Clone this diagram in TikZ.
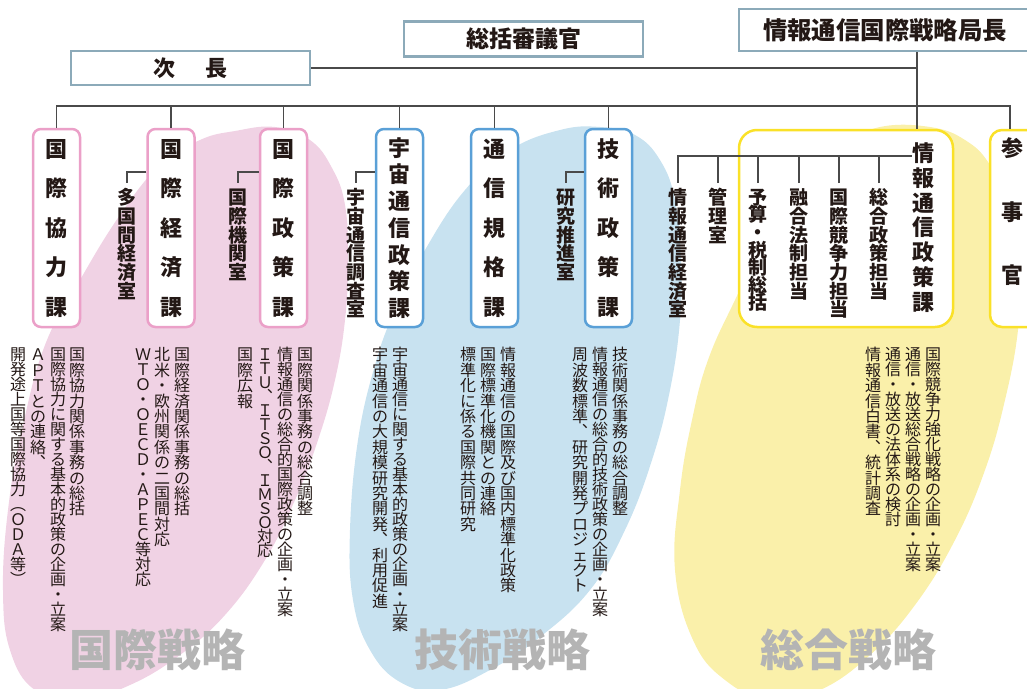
\documentclass[tikz,border=0pt]{standalone}
\usepackage{fontspec}
\setmainfont{Noto Sans CJK JP}
\makeatletter
\newcommand\vtext[2]{%
  \vbox{\offinterlineskip
  \@tfor\vt@c:=#2\do{%
    \dimen@=\dimexpr#1\relax
    \hbox to 1em{\hss\vbox to\dimen@{\vss\hbox{\vrule height .88em depth .12em width 0pt\vt@c}\vss}\hss}}}}
\makeatother
\definecolor{pinkf}{HTML}{F0D2E4}
\definecolor{bluef}{HTML}{C8E2F0}
\definecolor{yelf}{HTML}{FAF0AA}
\definecolor{pinkc}{HTML}{EBA0C8}
\definecolor{bluec}{HTML}{5AA0D7}
\definecolor{yelc}{HTML}{FAE128}
\definecolor{topc}{HTML}{8CAAB9}
\definecolor{grayc}{HTML}{B4B4B4}
\definecolor{linec}{HTML}{4A4A4A}
\definecolor{txt}{HTML}{231815}
\begin{document}
\begin{tikzpicture}[x=1pt,y=-1pt,
  topbox/.style={draw=topc, line width=2.5pt, fill=white, inner sep=0pt, text=txt},
  secbox/.style={line width=2.5pt, rounded corners=8pt, fill=white, inner sep=0pt,
     minimum width=47pt, minimum height=198pt, text=txt, font=\bfseries\fontsize{22}{22}\selectfont},
  pbox/.style={secbox, draw=pinkc},
  bbox/.style={secbox, draw=bluec},
  ybox/.style={draw=yelc, line width=2.5pt, fill=white, inner sep=0pt},
  subl/.style={inner xsep=0pt, inner ysep=5pt, anchor=north, text=txt, font=\bfseries\fontsize{19}{19}\selectfont},
  desc/.style={inner sep=0pt, anchor=north, text=txt, font=\fontsize{16}{16}\selectfont},
  conn/.style={draw=linec, line width=1.2pt},
  biglab/.style={inner sep=0pt, text=grayc, font=\bfseries\fontsize{44}{44}\selectfont}]
\useasboundingbox (0,0) rectangle (1027,688);
\clip (0,0) rectangle (1027,688);
% blobs
\fill[pinkf] plot[smooth cycle, tension=0.7] coordinates {(235,131) (275,127) (310,140) (332,168) (345,205) (348,260) (345,320) (335,380) (318,440) (295,500) (265,560) (225,615) (180,655) (130,685) (80,700) (35,690) (10,650) (3,590) (8,510) (22,430) (45,345) (80,280) (120,215) (160,165) (200,140)};
\fill[bluef] plot[smooth cycle, tension=0.7] coordinates {(560,130) (600,127) (635,135) (660,160) (675,200) (681,260) (680,320) (670,390) (652,460) (625,530) (590,590) (540,637) (490,670) (440,690) (400,682) (370,650) (353,600) (350,530) (358,440) (375,365) (395,310) (425,250) (465,190) (510,150)};
\fill[yelf] plot[smooth cycle, tension=0.7] coordinates {(880,127) (930,127) (965,140) (990,165) (1010,210) (1020,270) (1018,330) (1005,400) (985,470) (955,540) (915,605) (870,655) (820,690) (770,700) (725,680) (693,640) (675,570) (680,490) (692,420) (708,360) (735,300) (770,230) (810,175) (845,145)};
% big labels
\node[biglab] (g1) at (157,650) {国際戦略};
\node[biglab] (g2) at (502,650) {技術戦略};
\node[biglab] (g3) at (848,650) {総合戦略};
% top boxes
\node[topbox, minimum width=239pt, minimum height=34pt, font=\bfseries\fontsize{22}{22}\selectfont] (jicho) at (190.5,68) {次\hspace{30pt}長};
\node[topbox, minimum width=239pt, minimum height=35pt, font=\bfseries\fontsize{23}{23}\selectfont] (shingi) at (523.5,39) {総括審議官};
\node[topbox, minimum width=292pt, minimum height=42pt, font=\bfseries\fontsize{24.4}{24.4}\selectfont] (kyoku) at (885,30) {情報通信国際戦略局長};
% section boxes
\node[pbox] (k1) at (56.5,228) {\vtext{39.5pt}{国際協力課}};
\node[pbox] (k2) at (171,228) {\vtext{39.5pt}{国際経済課}};
\node[pbox] (k3) at (283.5,228) {\vtext{39.5pt}{国際政策課}};
\node[bbox] (k4) at (399.5,228) {\vtext{26.7pt}{宇宙通信政策課}};
\node[bbox] (k5) at (494.5,228) {\vtext{39.5pt}{通信規格課}};
\node[bbox] (k6) at (608.5,228) {\vtext{39.5pt}{技術政策課}};
\node[ybox, minimum width=214pt, minimum height=197pt, rounded corners=18pt] (ys) at (846,228.5) {};
\node[ybox, minimum width=60pt, minimum height=197pt, rounded corners=12pt] (sj) at (1020,228.5) {};
\node[inner sep=0pt, anchor=north, text=txt, font=\bfseries\fontsize{22}{22}\selectfont] (yt) at (923,140.6) {\vtext{24.8pt}{情報通信政策課}};
\node[inner sep=0pt, text=txt, font=\bfseries\fontsize{22}{22}\selectfont] (sjt) at (1012,212) {\vtext{63.5pt}{参事官}};
% connectors
\coordinate (x917) at (917,0);
\coordinate (x1010) at (1010,0);
\coordinate (bus) at (0,106);
\coordinate (bus2) at (0,156);
\coordinate (h172) at (0,172);
\draw[conn] (jicho.east) -- (jicho.east -| x917);
\draw[conn] (kyoku.south -| x917) -- (ys.north -| x917);
\draw[conn] (k1.north) -- (k1.north |- bus) -- (bus -| x1010) -- (sj.north -| x1010);
\foreach \k in {k2,k3,k4,k5,k6} \draw[conn] (\k.north) -- (\k.north |- bus);
% sub offices
\node[subl] (s1) at (127,183) {\vtext{18.7pt}{多国間経済室}};
\node[subl] (s2) at (238,183) {\vtext{18.7pt}{国際機関室}};
\node[subl] (s3) at (356,183) {\vtext{18.7pt}{宇宙通信調査室}};
\node[subl] (s4) at (566,183) {\vtext{18.7pt}{研究推進室}};
\draw[conn] (k2.west |- h172) -| (s1.north);
\draw[conn] (k3.west |- h172) -| (s2.north);
\draw[conn] (k4.west |- h172) -| (s3.north);
\draw[conn] (k6.west |- h172) -| (s4.north);
\node[subl] (t1) at (678,183) {\vtext{18.7pt}{情報通信経済室}};
\node[subl] (t2) at (718,183) {\vtext{18.7pt}{管理室}};
\node[subl] (t3) at (758,183) {\vtext{17.6pt}{予算・税制総括}};
\node[subl] (t4) at (799,183) {\vtext{18.7pt}{融合法制担当}};
\node[subl] (t5) at (839,183) {\vtext{18.7pt}{国際競争力担当}};
\node[subl] (t6) at (879,183) {\vtext{18.7pt}{総合政策担当}};
\draw[conn] (yt.west |- bus2) -- (t1.north |- bus2) -- (t1.north);
\foreach \t in {t2,t3,t4,t5,t6} \draw[conn] (\t.north) -- (\t.north |- bus2);
% descriptions
\node[desc] (d11) at (77,347) {\vtext{15.4pt}{国際協力関係事務の総括}};
\node[desc] (d12) at (58,347) {\vtext{15pt}{国際協力に関する基本的政策の企画・立案}};
\node[desc] (d13) at (38,347) {\vtext{15.4pt}{ＡＰＴとの連絡︑}};
\node[desc] (d14) at (18,347) {\vtext{15pt}{開発途上国等国際協力︵ＯＤＡ等︶}};
\node[desc] (d21) at (182,347) {\vtext{15.4pt}{国際経済関係事務の総括}};
\node[desc] (d22) at (162,347) {\vtext{15.4pt}{北米・欧州関係の二国間対応}};
\node[desc] (d23) at (143,347) {\vtext{15pt}{ＷＴＯ・ＯＥＣＤ・ＡＰＥＣ等対応}};
\node[desc] (d31) at (305,347) {\vtext{15.4pt}{国際関係事務の総合調整}};
\node[desc] (d32) at (285,347) {\vtext{15pt}{情報通信の総合的国際政策の企画・立案}};
\node[desc] (d33) at (265,347) {\vtext{14pt}{ＩＴＵ︑ＩＴＳＯ︑ＩＭＳＯ対応}};
\node[desc] (d34) at (245,347) {\vtext{15.4pt}{国際広報}};
\node[desc] (d41) at (400,347) {\vtext{15pt}{宇宙通信に関する基本的政策の企画・立案}};
\node[desc] (d42) at (380,347) {\vtext{15.4pt}{宇宙通信の大規模研究開発︑利用促進}};
\node[desc] (d51) at (508,347) {\vtext{15.4pt}{情報通信の国際及び国内標準化政策}};
\node[desc] (d52) at (488,347) {\vtext{15.4pt}{国際標準化機関との連絡}};
\node[desc] (d53) at (468,347) {\vtext{15.4pt}{標準化に係る国際共同研究}};
\node[desc] (d61) at (620,347) {\vtext{15.4pt}{技術関係事務の総合調整}};
\node[desc] (d62) at (600,347) {\vtext{15pt}{情報通信の総合的技術政策の企画・立案}};
\node[desc] (d63) at (580,347) {\vtext{15.4pt}{周波数標準︑研究開発プロジェクト}};
\node[desc] (d71) at (933,347) {\vtext{15pt}{国際競争力強化戦略の企画・立案}};
\node[desc] (d72) at (913,347) {\vtext{15pt}{通信・放送総合戦略の企画・立案}};
\node[desc] (d73) at (893,347) {\vtext{15pt}{通信・放送の法体系の検討}};
\node[desc] (d74) at (873,347) {\vtext{15.4pt}{情報通信白書︑統計調査}};
\end{tikzpicture}
\end{document}
